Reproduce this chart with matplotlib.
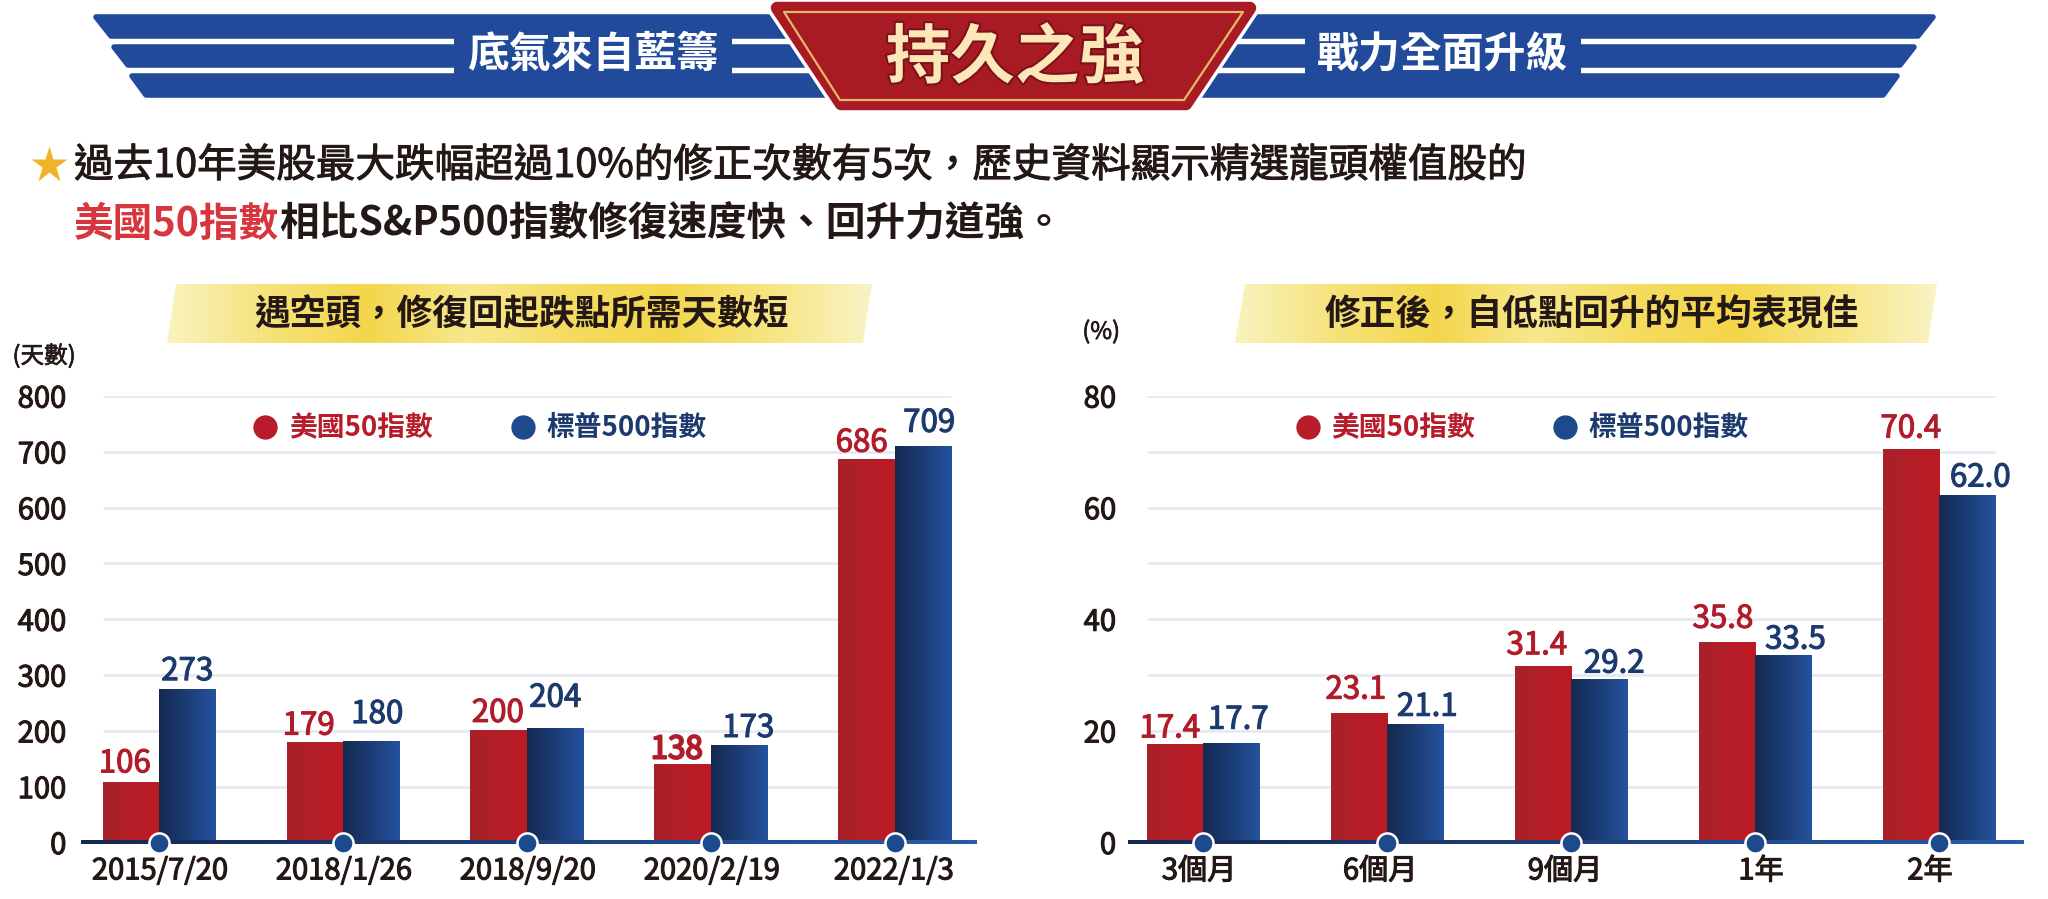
import matplotlib
matplotlib.use("Agg")
import matplotlib.pyplot as plt
import numpy as np
from matplotlib.colors import LinearSegmentedColormap
from matplotlib.patches import Polygon
from matplotlib.transforms import ScaledTranslation
import matplotlib.patheffects as pe

plt.rcParams['font.family'] = ['Noto Sans CJK TC', 'DejaVu Sans']

# data
days_labels = ["2015/7/20", "2018/1/26", "2018/9/20", "2020/2/19", "2022/1/3"]
days_us50 = [106, 179, 200, 138, 686]
days_sp500 = [273, 180, 204, 173, 709]
days_ticks = [0, 100, 200, 300, 400, 500, 600, 700, 800]

rebound_labels = ["3個月", "6個月", "9個月", "1年", "2年"]
rebound_us50 = [17.4, 23.1, 31.4, 35.8, 70.4]
rebound_sp500 = [17.7, 21.1, 29.2, 33.5, 62.0]
rebound_ticks = [0, 20, 40, 60, 80]
rebound_grid = [10, 20, 30, 40, 50, 60, 70, 80]

name_us50 = "美國50指數"
name_sp500 = "標普500指數"

RED = "#b01c26"
NAVY = "#1d3a6e"
DARK = "#231815"
W, H = 2048, 899

red_cmap = LinearSegmentedColormap.from_list("r", ["#a82229", "#bd1a25"])
blue_cmap = LinearSegmentedColormap.from_list("b", ["#14294f", "#24529f"])
line_cmap = LinearSegmentedColormap.from_list("l", ["#14294f", "#2a5aa8"])
gold_cmap = LinearSegmentedColormap.from_list(
    "g", ["#f9f3bf", "#f6e27a", "#f4d64c", "#f8e88e", "#f5dc60", "#f4d64c", "#f7e582", "#f9f3c4"])


def px_axes(left, right, top, bottom):
    return fig.add_axes([left / W, 1 - bottom / H, (right - left) / W, (bottom - top) / H])


def thicker(width, color):
    # the font only comes in regular and bold, this fakes the medium weight
    return [pe.withStroke(linewidth=width, foreground=color)]


fig = plt.figure(figsize=(W / 100, H / 100), dpi=100, facecolor="white")

# page coordinates for the header art, in pixels from the top left
bg = fig.add_axes([0, 0, 1, 1], zorder=0)
bg.set_xlim(0, W)
bg.set_ylim(H, 0)
bg.axis("off")

BAND = "#224a9b"
for y0, y1, xl0, xl1, xr0, xr1 in [(14, 39, 93, 108, 1936, 1921),
                                   (44, 68, 111, 125, 1917, 1903),
                                   (73, 98, 129, 143, 1900, 1886)]:
    bg.add_patch(Polygon([(xl0 + 3, y0 + 3), (xr0 - 3, y0 + 3), (xr1 - 3, y1 - 3), (xl1 + 3, y1 - 3)],
                         closed=True, fc=BAND, ec=BAND, lw=4, joinstyle="round"))
bg.fill_between([454, 732], 38, 74, color=BAND, lw=0)
bg.fill_between([1305, 1581], 38, 74, color=BAND, lw=0)

badge = [(777, 8), (1250, 8), (1186, 104), (841, 104)]
bg.add_patch(Polygon(badge, closed=True, fc="white", ec="white", lw=14, joinstyle="round"))
bg.add_patch(Polygon(badge, closed=True, fc="#a81b24", ec="#a81b24", lw=9, joinstyle="round"))
bg.add_patch(Polygon([(784, 12), (1243, 12), (1184, 100), (840, 100)], closed=True,
                     fill=False, ec="#e8b866", lw=1.6, joinstyle="round"))

bg.text(593, 55, "底氣來自藍籌", color="white", fontsize=30.2, fontweight="bold", ha="center", va="center")
bg.text(1442, 55, "戰力全面升級", color="white", fontsize=30.2, fontweight="bold", ha="center", va="center")
bg.text(1015, 59, "持久之強", color="#fde6b8", fontsize=46.5, fontweight="bold", ha="center", va="center",
        path_effects=[pe.withStroke(linewidth=3, foreground="#7c1219")])

# intro lines
bg.plot([49], [165], marker="*", ms=28, color="#f0b429", mec="none")
bg.text(74, 166, "過去10年美股最大跌幅超過10%的修正次數有5次，歷史資料顯示精選龍頭權值股的",
        color=DARK, fontsize=28.5, va="center", path_effects=thicker(0.7, DARK))
first = bg.text(74, 224, name_us50, color="#d8363f", fontsize=28.5, va="center", fontweight="bold")
bg.annotate("相比S&P500指數修復速度快、回升力道強。", xy=(1, 0.5), xycoords=first, va="center",
            color=DARK, fontsize=28.5, fontweight="bold")

# yellow banners
grad = np.linspace(0, 1, 256).reshape(1, -1)
for pts, title, cx in [([(176, 284), (872, 284), (863, 343), (167, 343)], "遇空頭，修復回起跌點所需天數短", 521),
                       ([(1245, 284), (1937, 284), (1928, 343), (1235, 343)], "修正後，自低點回升的平均表現佳", 1592)]:
    img = bg.imshow(grad, extent=(pts[3][0], pts[1][0], 343, 284), cmap=gold_cmap, aspect="auto", zorder=1)
    shape = Polygon(pts, closed=True, transform=bg.transData, fc="none", ec="none")
    bg.add_patch(shape)
    img.set_clip_path(shape)
    bg.text(cx, 315, title, color=DARK, fontsize=25.7, fontweight="bold", ha="center", va="center", zorder=2)
bg.set_xlim(0, W)
bg.set_ylim(H, 0)

bg.text(44, 356, "(天數)", color=DARK, fontsize=17, ha="center", va="center", path_effects=thicker(0.5, DARK))
bg.text(1101, 332, "(%)", color=DARK, fontsize=17, ha="center", va="center", path_effects=thicker(0.5, DARK))


def draw_panel(box, xlim, ymax, grid, ticks, labels, us50, sp500, fmt, off_us, off_sp, label_dx, pad):
    ax = px_axes(*box)
    ax.patch.set_alpha(0)
    x = np.arange(len(labels))
    width = 0.307
    ax.set_xlim(*xlim)
    ax.set_ylim(0, ymax)
    ax.hlines(grid, x[0] - width, x[-1] + width, color="#e6e8ef", lw=1.8, zorder=1)
    bars1 = ax.bar(x - width / 2, us50, width, color=RED, zorder=2)
    bars2 = ax.bar(x + width / 2, sp500, width, color=NAVY, zorder=2)
    for bars, cmap in [(bars1, red_cmap), (bars2, blue_cmap)]:
        for b in bars:
            ax.imshow(grad, extent=(b.get_x(), b.get_x() + b.get_width(), 0, b.get_height()),
                      cmap=cmap, aspect="auto", zorder=3)
    for vals, xs, offs, col in [(us50, x - width / 2, off_us, "#b01c2a"), (sp500, x + width / 2, off_sp, NAVY)]:
        for i in range(len(vals)):
            # the 138 label is set heavier than the others in the original
            stroke = 1.5 if vals[i] == 138 else 0.8
            ax.annotate(fmt % vals[i], (xs[i], vals[i]), xytext=offs[i], textcoords="offset pixels",
                        ha="center", va="bottom", color=col, fontsize=22.5,
                        path_effects=thicker(stroke, col), annotation_clip=False, zorder=6)
    # baseline with a gradient, and the round markers on it
    y_px = 4.0 / (box[3] - box[2]) * ymax
    ax.imshow(grad, extent=(xlim[0], xlim[1], -y_px / 2, y_px / 2), cmap=line_cmap, aspect="auto",
              zorder=4, clip_on=False)
    ax.plot(x, [0] * len(x), "o", ms=14.5, mfc="#1c4a8c", mec="white", mew=1.8, zorder=5, clip_on=False)
    ax.set_xlim(*xlim)
    ax.set_ylim(0, ymax)
    for s in ax.spines.values():
        s.set_visible(False)
    ax.set_xticks(x, labels)
    ax.set_yticks(ticks)
    ax.tick_params(axis="both", length=0, labelsize=21, labelcolor=DARK)
    ax.tick_params(axis="x", pad=10)
    ax.tick_params(axis="y", pad=pad)
    for lab in ax.get_xticklabels() + ax.get_yticklabels():
        lab.set_path_effects(thicker(0.8, DARK))
    for lab, dx in zip(ax.get_xticklabels(), label_dx):
        lab.set_transform(lab.get_transform() + ScaledTranslation(dx / 100, 0, fig.dpi_scale_trans))
    return ax


draw_panel((81, 977, 396, 842.5), (-0.424, 4.446), 800, days_ticks[1:], days_ticks, days_labels,
           days_us50, days_sp500, "%d",
           [(-6, 4), (-6, 1), (-1, 2), (-6, 0), (-5, 1)],
           [(0, 3), (6, 12), (0, 15), (9, 2), (6, 8)],
           [1, 1, 1, 1, -1], 10.5)
draw_panel((1128, 2024, 396, 842.5), (-0.408, 4.462), 80, rebound_grid, rebound_ticks, rebound_labels,
           rebound_us50, rebound_sp500, "%.1f",
           [(-5, 1), (-3, 8), (-6, 6), (-4, 8), (0, 5)],
           [(7, 8), (12, 2), (15, 0), (12, 0), (13, 3)],
           [-4, -7, -6, 6, -9], 8.5)

# legends
for cx_red, tx_red, cx_blue, tx_blue in [(265, 289, 523, 546), (1308, 1331, 1564.5, 1588)]:
    bg.plot([cx_red], [427], "o", ms=17.5, color="#b81c2a", mec="none")
    bg.plot([cx_blue], [427], "o", ms=17.5, color="#1c4a8c", mec="none")
    bg.text(tx_red, 428, name_us50, color="#b81c2a", fontsize=20, fontweight="bold", va="center", zorder=7)
    bg.text(tx_blue, 428, name_sp500, color=NAVY, fontsize=20, fontweight="bold", va="center", zorder=7)
bg.set_xlim(0, W)
bg.set_ylim(H, 0)

plt.savefig("out.png", dpi=100)
